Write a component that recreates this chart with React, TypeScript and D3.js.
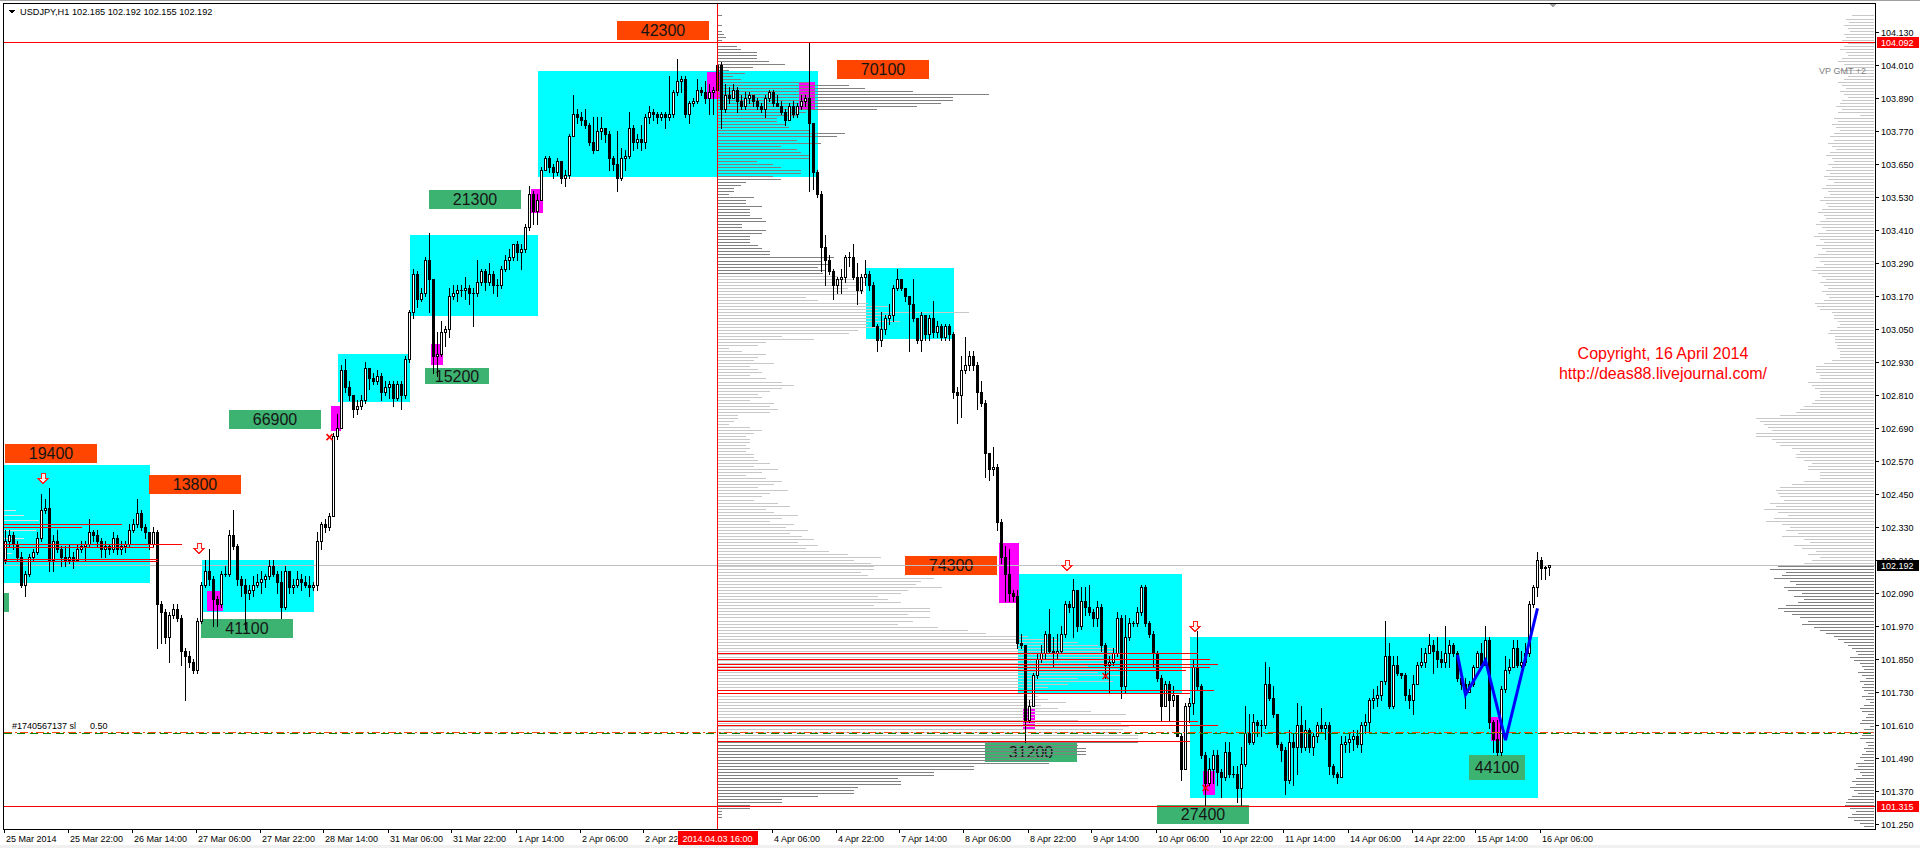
import React from "react";
import * as d3 from "d3";

// USDJPY H1 bars, one array per trading day: [high, low, close]; open = previous close
const FIRST_OPEN = 102.21;
const MAR25 = [[102.32,102.20,102.28],[102.32,102.26,102.30],[102.31,102.25,102.27],[102.28,102.21,102.22],[102.24,102.11,102.12],[102.17,102.08,102.16],[102.23,102.15,102.22],[102.25,102.21,102.24],[102.31,102.23,102.29],[102.45,102.28,102.39],[102.43,102.38,102.40],[102.47,102.17,102.21],[102.30,102.17,102.28],[102.32,102.24,102.25],[102.26,102.19,102.22],[102.26,102.19,102.21],[102.27,102.20,102.22],[102.24,102.18,102.21]];
const MAR26 = [[102.27,102.21,102.25],[102.28,102.24,102.26],[102.28,102.21,102.27],[102.36,102.26,102.31],[102.32,102.28,102.30],[102.32,102.26,102.28],[102.29,102.22,102.25],[102.28,102.22,102.26],[102.27,102.23,102.25],[102.31,102.24,102.29],[102.30,102.23,102.25],[102.28,102.23,102.26],[102.28,102.24,102.27],[102.34,102.26,102.32],[102.36,102.31,102.34],[102.43,102.33,102.38],[102.39,102.32,102.33],[102.34,102.29,102.31],[102.31,102.25,102.27],[102.33,102.26,102.31],[102.32,101.89,102.05],[102.06,101.91,102.02],[102.03,101.91,101.93],[102.02,101.84,102.01]];
const MAR27 = [[102.05,102.00,102.03],[102.05,101.99,102.00],[102.01,101.83,101.88],[101.89,101.70,101.86],[101.88,101.82,101.84],[101.85,101.80,101.81],[102.00,101.80,101.99],[102.13,101.98,102.12],[102.21,102.11,102.17],[102.25,102.12,102.14],[102.15,101.97,102.07],[102.08,101.97,102.05],[102.17,102.04,102.16],[102.19,102.15,102.16],[102.32,102.15,102.30],[102.39,102.25,102.26],[102.27,102.12,102.14],[102.15,102.08,102.12],[102.14,101.96,102.09],[102.12,102.07,102.10],[102.15,102.08,102.12],[102.16,102.11,102.13],[102.17,102.09,102.14],[102.16,102.11,102.15]];
const MAR28 = [[102.21,102.14,102.19],[102.21,102.15,102.16],[102.17,102.09,102.13],[102.17,102.00,102.04],[102.19,102.03,102.17],[102.17,102.09,102.11],[102.14,102.09,102.12],[102.17,102.11,102.14],[102.16,102.10,102.13],[102.15,102.11,102.12],[102.15,102.08,102.11],[102.13,102.10,102.12],[102.31,102.10,102.28],[102.35,102.25,102.34],[102.36,102.31,102.33],[102.38,102.32,102.37],[102.67,102.37,102.66],[102.74,102.65,102.69],[102.92,102.69,102.90],[102.94,102.82,102.84],[102.86,102.79,102.81],[102.81,102.73,102.76],[102.79,102.74,102.77],[102.81,102.76,102.79]];
const MAR31 = [[102.93,102.78,102.91],[102.90,102.83,102.87],[102.89,102.85,102.86],[102.90,102.85,102.88],[102.89,102.79,102.82],[102.86,102.81,102.84],[102.86,102.80,102.85],[102.86,102.77,102.80],[102.86,102.79,102.85],[102.86,102.76,102.81],[102.95,102.80,102.94],[103.12,102.93,103.11],[103.27,103.09,103.25],[103.26,103.13,103.16],[103.20,103.15,103.18],[103.31,103.17,103.30],[103.40,103.11,103.23],[103.23,102.89,102.95],[103.04,102.88,102.96],[103.08,102.95,103.04],[103.06,102.99,103.05],[103.20,103.02,103.17],[103.21,103.16,103.18],[103.21,103.15,103.19]];
const APR01 = [[103.21,103.17,103.19],[103.24,103.16,103.20],[103.21,103.14,103.18],[103.20,103.06,103.18],[103.30,103.17,103.22],[103.27,103.21,103.26],[103.27,103.19,103.22],[103.29,103.21,103.25],[103.26,103.18,103.21],[103.23,103.17,103.21],[103.28,103.20,103.27],[103.32,103.26,103.30],[103.34,103.27,103.31],[103.36,103.30,103.36],[103.37,103.30,103.33],[103.36,103.27,103.34],[103.43,103.33,103.42],[103.57,103.41,103.54],[103.55,103.43,103.48],[103.54,103.43,103.52],[103.64,103.52,103.63],[103.68,103.63,103.67],[103.68,103.62,103.64],[103.65,103.60,103.62]];
const APR02 = [[103.67,103.61,103.66],[103.66,103.58,103.60],[103.63,103.57,103.61],[103.76,103.60,103.75],[103.90,103.75,103.83],[103.85,103.80,103.82],[103.84,103.79,103.81],[103.85,103.78,103.79],[103.80,103.72,103.73],[103.82,103.69,103.70],[103.82,103.70,103.77],[103.82,103.74,103.78],[103.78,103.73,103.76],[103.77,103.63,103.67],[103.68,103.63,103.65],[103.77,103.55,103.60],[103.71,103.59,103.67],[103.70,103.63,103.68],[103.84,103.67,103.78],[103.79,103.70,103.73],[103.76,103.71,103.74],[103.79,103.70,103.73],[103.83,103.71,103.82],[103.86,103.80,103.84]];
const APR03 = [[103.85,103.81,103.83],[103.84,103.80,103.82],[103.84,103.81,103.83],[103.84,103.78,103.82],[103.97,103.81,103.83],[103.92,103.82,103.91],[104.03,103.90,103.95],[103.97,103.91,103.96],[103.97,103.82,103.83],[103.88,103.80,103.87],[103.89,103.86,103.88],[103.96,103.87,103.92],[103.93,103.90,103.91],[103.95,103.87,103.89],[103.94,103.83,103.91],[103.93,103.83,103.92],[104.02,103.90,104.01],[104.02,103.78,103.85],[103.94,103.84,103.90],[103.93,103.87,103.89],[103.94,103.89,103.92],[103.93,103.84,103.88],[103.90,103.85,103.86],[103.91,103.85,103.89]];
const APR04 = [[103.91,103.87,103.90],[103.90,103.86,103.88],[103.89,103.85,103.86],[103.87,103.84,103.85],[103.90,103.82,103.89],[103.92,103.88,103.91],[103.92,103.86,103.87],[103.90,103.86,103.86],[103.88,103.83,103.84],[103.85,103.79,103.81],[103.87,103.81,103.86],[103.88,103.82,103.83],[103.87,103.82,103.86],[103.90,103.85,103.88],[103.90,103.86,103.89],[104.092,103.55,103.80],[103.80,103.56,103.62],[103.63,103.53,103.54],[103.55,103.26,103.35],[103.39,103.21,103.30],[103.32,103.25,103.26],[103.27,103.16,103.21],[103.24,103.18,103.23],[103.27,103.18,103.24]];
const APR07 = [[103.32,103.22,103.31],[103.33,103.28,103.31],[103.36,103.23,103.24],[103.29,103.14,103.19],[103.25,103.18,103.24],[103.30,103.21,103.25],[103.26,103.19,103.21],[103.22,103.06,103.06],[103.07,102.97,103.01],[103.11,102.99,103.05],[103.10,103.03,103.09],[103.14,103.07,103.10],[103.21,103.08,103.20],[103.27,103.19,103.23],[103.23,103.19,103.20],[103.20,103.15,103.17],[103.17,102.97,103.14],[103.23,103.08,103.09],[103.09,103.00,103.01],[103.11,102.97,103.10],[103.10,103.01,103.03],[103.10,103.01,103.09],[103.15,103.02,103.04],[103.08,103.02,103.06]];
const APR08 = [[103.07,103.01,103.02],[103.07,103.01,103.06],[103.07,103.01,103.03],[103.04,102.80,102.82],[102.84,102.71,102.81],[102.95,102.73,102.90],[103.02,102.89,102.92],[102.97,102.90,102.95],[102.97,102.90,102.92],[102.93,102.76,102.82],[102.86,102.77,102.78],[102.79,102.51,102.60],[102.60,102.50,102.54],[102.62,102.52,102.55],[102.56,102.32,102.35],[102.36,102.20,102.22],[102.26,102.06,102.16],[102.25,102.06,102.09],[102.10,102.06,102.08],[102.10,101.89,101.91],[101.94,101.89,101.90],[101.90,101.55,101.63],[101.70,101.62,101.68],[101.80,101.68,101.79]];
const APR09 = [[101.87,101.78,101.85],[101.90,101.84,101.87],[101.95,101.85,101.94],[102.03,101.87,101.88],[101.93,101.82,101.87],[101.94,101.85,101.88],[101.97,101.87,101.94],[102.06,101.93,102.05],[102.06,102.02,102.04],[102.14,101.93,102.10],[102.10,101.95,101.97],[102.11,101.96,102.06],[102.11,102.01,102.04],[102.12,102.01,102.02],[102.03,101.97,102.00],[102.06,101.97,102.04],[102.05,101.88,101.90],[101.91,101.78,101.83],[101.86,101.73,101.84],[101.89,101.83,101.87],[102.02,101.86,102.00],[102.01,101.71,101.75],[102.01,101.73,101.93],[102.00,101.92,101.98]];
const APR10 = [[101.99,101.97,101.98],[102.04,101.97,102.02],[102.12,102.01,102.11],[102.12,101.97,101.98],[101.99,101.93,101.94],[101.95,101.82,101.87],[101.88,101.77,101.78],[101.79,101.63,101.68],[101.77,101.68,101.76],[101.77,101.63,101.70],[101.75,101.68,101.72],[101.72,101.57,101.57],[101.58,101.41,101.45],[101.69,101.45,101.68],[101.71,101.62,101.69],[101.85,101.65,101.82],[101.95,101.74,101.75],[101.76,101.49,101.50],[101.51,101.32,101.40],[101.49,101.39,101.45],[101.52,101.40,101.50],[101.52,101.39,101.44],[101.45,101.35,101.42],[101.55,101.41,101.51]];
const APR11 = [[101.55,101.42,101.43],[101.46,101.42,101.43],[101.46,101.33,101.38],[101.53,101.315,101.47],[101.68,101.46,101.58],[101.65,101.54,101.55],[101.65,101.54,101.62],[101.63,101.57,101.61],[101.63,101.57,101.61],[101.84,101.60,101.76],[101.82,101.70,101.71],[101.75,101.64,101.65],[101.65,101.53,101.54],[101.55,101.48,101.52],[101.53,101.36,101.41],[101.59,101.40,101.55],[101.58,101.39,101.53],[101.69,101.43,101.61],[101.68,101.51,101.53],[101.63,101.52,101.59],[101.60,101.51,101.53],[101.58,101.50,101.57],[101.62,101.55,101.61],[101.67,101.58,101.60]];
const APR14 = [[101.62,101.56,101.61],[101.62,101.43,101.46],[101.47,101.42,101.43],[101.44,101.40,101.42],[101.57,101.42,101.54],[101.57,101.51,101.55],[101.58,101.51,101.56],[101.59,101.52,101.57],[101.59,101.53,101.54],[101.62,101.51,101.61],[101.65,101.58,101.62],[101.71,101.58,101.70],[101.74,101.67,101.71],[101.75,101.68,101.72],[101.77,101.70,101.77],[101.99,101.76,101.86],[101.91,101.67,101.68],[101.86,101.67,101.83],[101.86,101.79,101.80],[101.80,101.78,101.79],[101.80,101.70,101.72],[101.74,101.67,101.70],[101.79,101.65,101.76],[101.84,101.76,101.83]];
const APR15 = [[101.89,101.82,101.84],[101.89,101.82,101.87],[101.94,101.87,101.90],[101.92,101.80,101.88],[101.93,101.82,101.85],[101.88,101.82,101.84],[101.97,101.82,101.87],[101.92,101.82,101.90],[101.91,101.86,101.87],[101.88,101.77,101.78],[101.80,101.74,101.76],[101.78,101.67,101.73],[101.77,101.73,101.76],[101.83,101.75,101.82],[101.88,101.82,101.87],[101.91,101.82,101.83],[101.97,101.83,101.92],[101.93,101.60,101.62],[101.63,101.51,101.56],[101.63,101.50,101.51],[101.75,101.50,101.74],[101.86,101.73,101.81],[101.85,101.80,101.82],[101.92,101.82,101.89]];
const APR16 = [[101.92,101.82,101.83],[101.88,101.82,101.84],[101.91,101.83,101.87],[102.06,101.86,102.05],[102.12,102.04,102.11],[102.24,102.08,102.21],[102.22,102.14,102.18],[102.19,102.14,102.185],[102.192,102.155,102.192]];
const DAYS = [MAR25, MAR26, MAR27, MAR28, MAR31, APR01, APR02, APR03, APR04, APR07, APR08, APR09, APR10, APR11, APR14, APR15, APR16];

const SYMBOL = "USDJPY,H1";
const LAST_QUOTE = [102.185, 102.192, 102.155, 102.192];
const CURRENT_PRICE = 102.192;
const HIGH_LINE = 104.092;
const LOW_LINE = 101.315;
const PROFILE_START_BAR = 178;
const PROFILE_START_LABEL = "2014.04.03 16:00";

const PRICE_TICKS = [104.13,104.01,103.89,103.77,103.65,103.53,103.41,103.29,103.17,103.05,102.93,102.81,102.69,102.57,102.45,102.33,102.21,102.09,101.97,101.85,101.73,101.61,101.49,101.37,101.25];
const TIME_LABELS = ["25 Mar 2014","25 Mar 22:00","26 Mar 14:00","27 Mar 06:00","27 Mar 22:00","28 Mar 14:00","31 Mar 06:00","31 Mar 22:00","1 Apr 14:00","2 Apr 06:00","2 Apr 22:00","3 Apr 14:00","4 Apr 06:00","4 Apr 22:00","7 Apr 14:00","8 Apr 06:00","8 Apr 22:00","9 Apr 14:00","10 Apr 06:00","10 Apr 22:00","11 Apr 14:00","14 Apr 06:00","14 Apr 22:00","15 Apr 14:00","16 Apr 06:00"];
const BARS_PER_LABEL = 16;

// volume profile rows: top price, row step, volumes per row
const VP_TOP = 104.19;
const VP_STEP = 0.011;
const VP_FROM_APR03 = [4,0,0,4,0,4,6,8,4,0, 19,23,39,39,39,51,67,35,11,27, 15,23,91,131,147,195,271,235,235,223, 199,159,88,79,59,59,68,71,91,127, 119,79,103,63,79,83,91,91,39,55, 63,83,83,55,63,28,23,16,16,11, 36,28,28,44,32,32,32,44,48,24, 24,48,44,32,32,32,40,44,52,52, 116,103,110,100,108,105,120,135,148,140, 130,146,138,88,100,150,170,160,251,175, 160,182,150,165,140,131,64,96,48,40, 11,24,48,40,36,56,32,40,44,32, 48,64,76,64,52,40,44,32,56,52, 60,52,20,20,16,11,32,44,36,28, 32,32,28,32,28,36,36,40,52,36, 60,44,28,48,64,56,40,70,52,44, 36,60,72,48,56,80,64,52,76,68, 90,72,84,96,80,100,88,111,130,163, 136,153,156,156,143,150,216,203,198,224, 190,183,160,170,183,156,212,212,190,212, 195,180,220,250,268,310,340,360,380,400, 395,410,385,405,390,370,400,380,410,360, 395,350,330,300,310,320,330,348,323,340, 373,408,316,360,403,411,405,403,420,420, 420,360,368,368,368,331,331,331,256,256, 216,216,180,183,183,140,136,136,100,64, 64,32,32,4,4,4,0,0,0];
const VP_GMT2 = [22,28,25,30,26,24,30,28,32,26, 30,34,28,26,32,36,30,28,34,30, 26,30,36,32,28,34,30,26,32,34, 38,32,36,14,40,36,42,38,34,40, 44,40,46,42,38,44,48,42,40,46, 42,48,44,50,46,40,48,52,46,44, 50,54,48,46,52,56,50,48,54,58, 52,48,56,60,54,50,58,52,48,56, 60,54,50,58,62,56,52,48,54,50, 46,52,48,45,50,59,57,54,42,40, 40,36,34,37,44,46,39,39,39,37, 37,34,34,34,42,50,58,58,58,54, 54,66,62,59,54,54,54,59,62,70, 74,78,94,118,114,110,106,102,118,118, 102,98,94,82,74,78,78,70,62,66, 66,54,54,54,70,82,94,98,96,94, 90,104,98,110,96,86,100,108,92,84, 88,76,92,70,64,80,72,58,66,54, 62,70,96,104,88,92,100,84,78,90, 86,72,80,70,76,88,96,90,82,74, 66,72,60,54,48,40,36,30,26,22, 18,16,24,20,14,12,10,16,12,8, 14,10,12,10,6,12,8,4,10,14, 12,6,8,12,14,4,10,16,12,14, 8,6,10,8,12,14,10,18,16,20, 14,12,18,22,18,24,20,16,22,26, 28,29,24,18,22,26,20,14,10];
// session profile inside the 25 Mar range: [price, volume]
const MAR25_PROFILE = [[102.392,12],[102.374,20],[102.355,35],[102.319,32],[102.290,20],[102.235,8]];

// ranges: [fromBar, toBar, topPrice, bottomPrice]
const RANGES = [[0,36.5,102.555,102.126],[49.5,77.5,102.210,102.021],[83.5,101.5,102.959,102.785],[101.5,133.5,103.392,103.097],[133.5,203.5,103.988,103.603],[215.5,237.5,103.272,103.014],[253.5,294.5,102.159,101.726],[296.5,383.5,101.930,101.345]];
const SIGNALS = [[50.5,54.5,102.097,102.025],[81.5,84,102.770,102.679],[106.5,109.5,102.995,102.919],[131.5,134.5,103.559,103.472],[175.5,179,103.985,103.886],[198.5,202.5,103.948,103.850],[248.5,253.5,102.272,102.054],[254.5,257.5,101.672,101.592],[299.5,302.5,101.443,101.355],[371.5,374.5,101.639,101.552]];
// volume tags: [text, bar, topPrice]
const SELL_TAGS = [["19400",0,102.632],["13800",36,102.519],["42300",153,104.170],["70100",208,104.028],["74300",225,102.225]];
const BUY_TAGS = [["66900",56,102.756],["41100",49,101.996],["21300",106,103.556],["15200",105,102.908],["31200",245,101.545],["27400",288,101.319],["44100",366,101.501]];
// level lines: [price, fromBar, toBar]
const LEVELS = [[102.340,0,29],[102.329,0,19],[102.267,0,44],[102.258,0,37],[102.215,0,38],[102.205,0,38],
  [101.872,178,298],[101.850,178,301],[101.832,178,303],[101.821,178,301],[101.810,178,295],[101.737,178,302],[101.726,178,296],[101.625,178,298],[101.611,178,303],[101.552,178,296]];
const ORDER_SL = 101.586;
const ORDER_OPEN = 101.580;
const ORDER_TEXT = "#1740567137 sl";
const ORDER_LOTS = "0.50";
const ARROWS = [[9.4,102.526],[48.4,102.272],[265.4,102.21],[297.4,101.988]];
const CROSSES = [[81,102.657],[275,101.788],[300,101.381]];
const ZIGZAG = [[363,101.865],[365,101.72],[370,101.845],[375,101.555],[383,102.034]];

const FONT = "'Liberation Sans', Arial, sans-serif";

export default function App() {
  const bars = [];
  let prev = FIRST_OPEN;
  DAYS.forEach((day) => day.forEach(([h, l, c]) => { bars.push({ o: prev, h, l, c }); prev = c; }));
  bars[bars.length - 1].o = LAST_QUOTE[0];

  const AX_RIGHT = 1875;
  const AX_BOTTOM = 829;
  const x = d3.scaleLinear().domain([0, 386]).range([5.5, 5.5 + 4 * 386]);
  const y = d3.scaleLinear().domain([101.25, 104.13]).range([824, 32]);
  const ry = (p) => Math.round(y(p));
  const vol = d3.scaleLinear().domain([0, 100]).range([0, 100]);
  const fmt = d3.format(".3f");
  const vpStart = x(PROFILE_START_BAR) + 0.5;
  const dateBoxLeft = x(PROFILE_START_BAR) - 40;
  const dateBoxRight = x(PROFILE_START_BAR) + 40;

  const candleEls = bars.map((b, i) => {
    const cx = x(i);
    const yh = ry(b.h), yl = ry(b.l);
    const yo = ry(b.o), yc = ry(b.c);
    const top = Math.min(yo, yc), bot = Math.max(yo, yc);
    let body;
    if (b.c > b.o && bot > top) body = <rect x={cx - 1} y={top + 0.5} width={2} height={bot - top} fill="#fff" stroke="#000" strokeWidth={1} />;
    else if (b.c < b.o && bot > top) body = <rect x={cx - 1.5} y={top} width={3} height={bot - top + 1} fill="#000" />;
    else body = <rect x={cx - 1.5} y={top} width={3} height={1} fill="#000" />;
    return (
      <g key={i}>
        <rect x={cx - 0.5} y={yh} width={1} height={yl - yh + 1} fill="#000" />
        {body}
      </g>
    );
  });

  const tag = (t, bar, price, color, key) => {
    let w = 92, h = 19, base = 15;
    if (t === "15200") { w = 64; h = 16; base = 14; }
    if (t === "44100") { w = 56; h = 25; base = 18; }
    const lx = x(bar) - 0.5, ty = ry(price);
    return (
      <g key={key}>
        <rect x={lx} y={ty} width={w} height={h} fill={color} />
        <text x={lx + w / 2} y={ty + base} textAnchor="middle" fontFamily={FONT} fontSize={16} fill="#151515">{t}</text>
      </g>
    );
  };

  const arrow = (bar, price, key) => {
    const cx = x(bar), t = ry(price) + 0.5;
    const pts = [[cx - 2, t], [cx + 2, t], [cx + 2, t + 5], [cx + 5, t + 5], [cx, t + 10], [cx - 5, t + 5], [cx - 2, t + 5]];
    return <polygon key={key} points={pts.map((p) => p.join(",")).join(" ")} fill="#fff0f0" stroke="#ff2020" strokeWidth={1} />;
  };

  const zig = d3.line().x((d) => x(d[0])).y((d) => y(d[1]));

  // time labels: the one sitting under the profile-start date box is hidden by it,
  // the one just before it is cut at the box edge
  const timeLabels = TIME_LABELS.map((t, k) => ({ t, tx: Math.round(x(k * BARS_PER_LABEL)) - 2 }))
    .filter((d) => d.tx < dateBoxLeft || d.tx > dateBoxRight);

  return (
    <svg width={1920} height={848} style={{ position: "fixed", left: 0, top: 0, background: "#fff" }} shapeRendering="crispEdges">
      <defs>
        <clipPath id="beforeDateBox">
          <rect x={0} y={AX_BOTTOM} width={dateBoxLeft} height={19} />
        </clipPath>
      </defs>
      <rect x={0} y={0} width={1920} height={848} fill="#fff" />
      <rect x={0} y={845} width={1920} height={3} fill="#f0f0f0" />
      <line x1={0} y1={0.5} x2={1920} y2={0.5} stroke="#a0a0a0" />

      {RANGES.map(([a, b, t, bt], i) => (
        <rect key={"r" + i} x={x(a) - 2} y={ry(t)} width={x(b) - x(a)} height={ry(bt) - ry(t)} fill="#00ffff" />
      ))}
      {SIGNALS.map(([a, b, t, bt], i) => (
        <rect key={"s" + i} x={x(a) - 0.5} y={ry(t)} width={x(b) - x(a)} height={ry(bt) - ry(t)} fill="#ff00ff" />
      ))}
      {MAR25_PROFILE.map(([p, v], i) => (
        <rect key={"m" + i} x={4} y={ry(p)} width={vol(v)} height={1} fill="#e2e2e2" />
      ))}

      {SELL_TAGS.map(([t, b, p], i) => tag(t, b, p, "#ff4500", "st" + i))}
      {BUY_TAGS.map(([t, b, p], i) => tag(t, b, p, "#3cb371", "bt" + i))}
      <rect x={4} y={ry(102.090)} width={5} height={19} fill="#3cb371" />

      {VP_FROM_APR03.map((v, k) => v > 0 && (
        <rect key={"vl" + k} x={vpStart} y={ry(VP_TOP - k * VP_STEP)} width={vol(v)} height={1} fill={k <= 85 || k >= 240 ? "#808080" : "#c8c8c8"} />
      ))}
      {VP_GMT2.map((v, k) => (
        <rect key={"vr" + k} x={AX_RIGHT - 1 - vol(v)} y={ry(VP_TOP - k * VP_STEP)} width={vol(v)} height={1} fill={k <= 181 ? "#c8c8c8" : "#808080"} />
      ))}

      <rect x={4} y={ry(CURRENT_PRICE)} width={AX_RIGHT - 4} height={1} fill="#c0c0c0" />

      {candleEls}

      <rect x={4} y={ry(HIGH_LINE)} width={AX_RIGHT - 4} height={1} fill="#ff0000" />
      <rect x={4} y={ry(LOW_LINE)} width={AX_RIGHT - 4} height={1} fill="#ff0000" />
      <rect x={x(PROFILE_START_BAR) - 0.5} y={3} width={1} height={AX_BOTTOM - 3} fill="#ff0000" />
      {LEVELS.map(([p, a, b], i) => (
        <rect key={"lv" + i} x={a === 0 ? 4 : x(a)} y={ry(p)} width={x(b) - (a === 0 ? 4 : x(a))} height={1} fill="#ff0000" />
      ))}
      <line x1={4} x2={AX_RIGHT} y1={ry(ORDER_SL) + 0.5} y2={ry(ORDER_SL) + 0.5} stroke="#ff4500" strokeDasharray="8,3,2,3" />
      <line x1={4} x2={AX_RIGHT} y1={ry(ORDER_OPEN) + 0.5} y2={ry(ORDER_OPEN) + 0.5} stroke="#008000" strokeDasharray="8,5" />
      <text x={12} y={ry(ORDER_SL) - 3} fontFamily={FONT} fontSize={9} fill="#000">{ORDER_TEXT}</text>
      <text x={90} y={ry(ORDER_SL) - 3} fontFamily={FONT} fontSize={9} fill="#000">{ORDER_LOTS}</text>

      <path d={zig(ZIGZAG)} fill="none" stroke="#0000ff" strokeWidth={3} shapeRendering="auto" />
      {ARROWS.map(([b, p], i) => arrow(b, p, "a" + i))}
      {CROSSES.map(([b, p], i) => {
        const cx = x(b), cy = y(p);
        return (
          <g key={"c" + i} stroke="#ff0000" strokeWidth={1.6} shapeRendering="auto">
            <line x1={cx - 3} y1={cy - 3} x2={cx + 3} y2={cy + 3} />
            <line x1={cx - 3} y1={cy + 3} x2={cx + 3} y2={cy - 3} />
          </g>
        );
      })}

      <g fontFamily={FONT} fontSize={16} fill="#ff0000" textAnchor="middle">
        <text x={1663} y={359}>Copyright, 16 April 2014</text>
        <text x={1663} y={379}>http://deas88.livejournal.com/</text>
      </g>
      <text x={1866} y={74} textAnchor="end" fontFamily={FONT} fontSize={9} fill="#808080">VP GMT +2</text>
      <polygon points="1549,3 1557,3 1553,8" fill="#a0a0a0" />

      <polygon points="9,10 15,10 12,13.5" fill="#000" />
      <text x={20} y={15} fontFamily={FONT} fontSize={9.2} fill="#000">{SYMBOL + "  " + LAST_QUOTE.map(fmt).join(" ")}</text>

      {/* frame and axes */}
      <rect x={3.5} y={3.5} width={AX_RIGHT - 3.5} height={AX_BOTTOM - 3.5} fill="none" stroke="#000" />
      {PRICE_TICKS.map((t) => (
        <g key={"pt" + t}>
          <rect x={AX_RIGHT} y={ry(t)} width={4} height={1} fill="#000" />
          <text x={AX_RIGHT + 6} y={ry(t) + 3.5} fontFamily={FONT} fontSize={9} fill="#000">{fmt(t)}</text>
        </g>
      ))}
      {timeLabels.map(({ t, tx }) => (
        <g key={"tl" + t} clipPath={tx < dateBoxLeft && tx + 60 > dateBoxLeft ? "url(#beforeDateBox)" : undefined}>
          <rect x={tx} y={AX_BOTTOM} width={1} height={4} fill="#000" />
          <text x={tx + 2} y={842} fontFamily={FONT} fontSize={9} fill="#000">{t}</text>
        </g>
      ))}
      {[[HIGH_LINE, "#ff0000"], [CURRENT_PRICE, "#000000"], [LOW_LINE, "#ff0000"]].map(([p, c]) => (
        <g key={"pl" + p}>
          <rect x={AX_RIGHT + 2} y={ry(p) - 5} width={42} height={11} fill={c} />
          <text x={AX_RIGHT + 6} y={ry(p) + 4} fontFamily={FONT} fontSize={9} fill="#fff">{fmt(p)}</text>
        </g>
      ))}
      <rect x={dateBoxLeft} y={AX_BOTTOM + 2} width={80} height={14} fill="#ff0000" />
      <text x={x(PROFILE_START_BAR)} y={842} textAnchor="middle" fontFamily={FONT} fontSize={9} fill="#fff">{PROFILE_START_LABEL}</text>
    </svg>
  );
}
